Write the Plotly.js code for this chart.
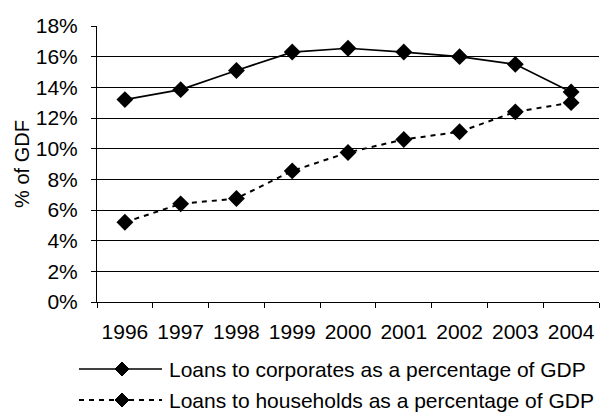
<!DOCTYPE html>
<html>
<head>
<meta charset="utf-8">
<script src="https://cdn.plot.ly/plotly-3.0.1.min.js"></script>
<style>html,body{margin:0;padding:0;background:#fff;}#chart{width:613px;height:412px;}</style>
</head>
<body>
<div id="chart"></div>
<script>
var years = ["1996","1997","1998","1999","2000","2001","2002","2003","2004"];
var corporates = [13.2, 13.85, 15.1, 16.3, 16.55, 16.3, 16.0, 15.5, 13.7];
var households = [5.2, 6.4, 6.75, 8.55, 9.75, 10.6, 11.1, 12.4, 13.0];
var yTicks = [0, 2, 4, 6, 8, 10, 12, 14, 16, 18];
var yTickLabels = yTicks.map(function(v){ return v + "%"; });
var seriesNames = ["Loans to corporates as a percentage of GDP",
                   "Loans to households as a percentage of GDP"];
var seriesDash = ["solid", "5px,5px"];
var seriesWidth = [1.7, 2];

var FONT = "Liberation Sans, Arial, sans-serif";
var traces = [
  {x: years, y: corporates, name: seriesNames[0], type: "scatter", mode: "lines+markers",
   line: {color: "#000", width: seriesWidth[0], dash: seriesDash[0]},
   marker: {symbol: "diamond", size: 13, color: "#000"}},
  {x: years, y: households, name: seriesNames[1], type: "scatter", mode: "lines+markers",
   line: {color: "#000", width: seriesWidth[1], dash: seriesDash[1]},
   marker: {symbol: "diamond", size: 13, color: "#000"}}
];

// Custom legend (long sample lines like the original), placed below the plot
var W = 613, H = 412, ML = 97, MR = 14, MT = 26, MB = 110;
var pw = W - ML - MR, ph = H - MT - MB;
function px2x(px){ return (px - ML) / pw; }
function py2y(py){ return (H - MB - py) / ph; }
var legendRowsY = [369, 400];
var shapes = [], annotations = [];
seriesNames.forEach(function(name, i){
  var yy = py2y(legendRowsY[i]);
  shapes.push({type: "line", xref: "paper", yref: "paper", x0: px2x(79), x1: px2x(162), y0: yy, y1: yy,
               line: {color: "#000", width: seriesWidth[i], dash: seriesDash[i]}});
  shapes.push({type: "path", xref: "paper", yref: "paper", xsizemode: "pixel", ysizemode: "pixel",
               xanchor: px2x(122), yanchor: yy, path: "M-7,0 L0,7 L7,0 L0,-7 Z",
               fillcolor: "#000", line: {color: "#000", width: 1}});
  annotations.push({xref: "paper", yref: "paper", x: px2x(167), y: yy, xanchor: "left", yanchor: "middle",
                    text: name, showarrow: false, font: {family: FONT, size: 21, color: "#000"}});
});

var layout = {
  width: W, height: H,
  margin: {l: ML, r: MR, t: MT, b: MB},
  paper_bgcolor: "#fff", plot_bgcolor: "#fff",
  font: {family: FONT, size: 21, color: "#000"},
  showlegend: false,
  shapes: shapes, annotations: annotations,
  xaxis: {type: "category", tickson: "boundaries", ticks: "outside", ticklen: 5,
          tickcolor: "#000", showline: true, linecolor: "#000", linewidth: 1, tickangle: 0,
          showgrid: false, zeroline: false, range: [-0.5, 8.5], ticklabelstandoff: 11,
          tickfont: {family: FONT, size: 21, color: "#000"}},
  yaxis: {range: [0, 18], tickvals: yTicks, ticktext: yTickLabels, ticks: "outside",
          ticklen: 5, tickcolor: "#000", showline: true, linecolor: "#000", linewidth: 1,
          showgrid: true, gridcolor: "#000", gridwidth: 1, zeroline: false, ticklabelstandoff: 9,
          tickfont: {family: FONT, size: 21, color: "#000"},
          title: {text: "% of GDF", font: {family: FONT, size: 20, color: "#000"}, standoff: 0}}
};

Plotly.newPlot("chart", traces, layout, {displayModeBar: false, staticPlot: true});
</script>
</body>
</html>
